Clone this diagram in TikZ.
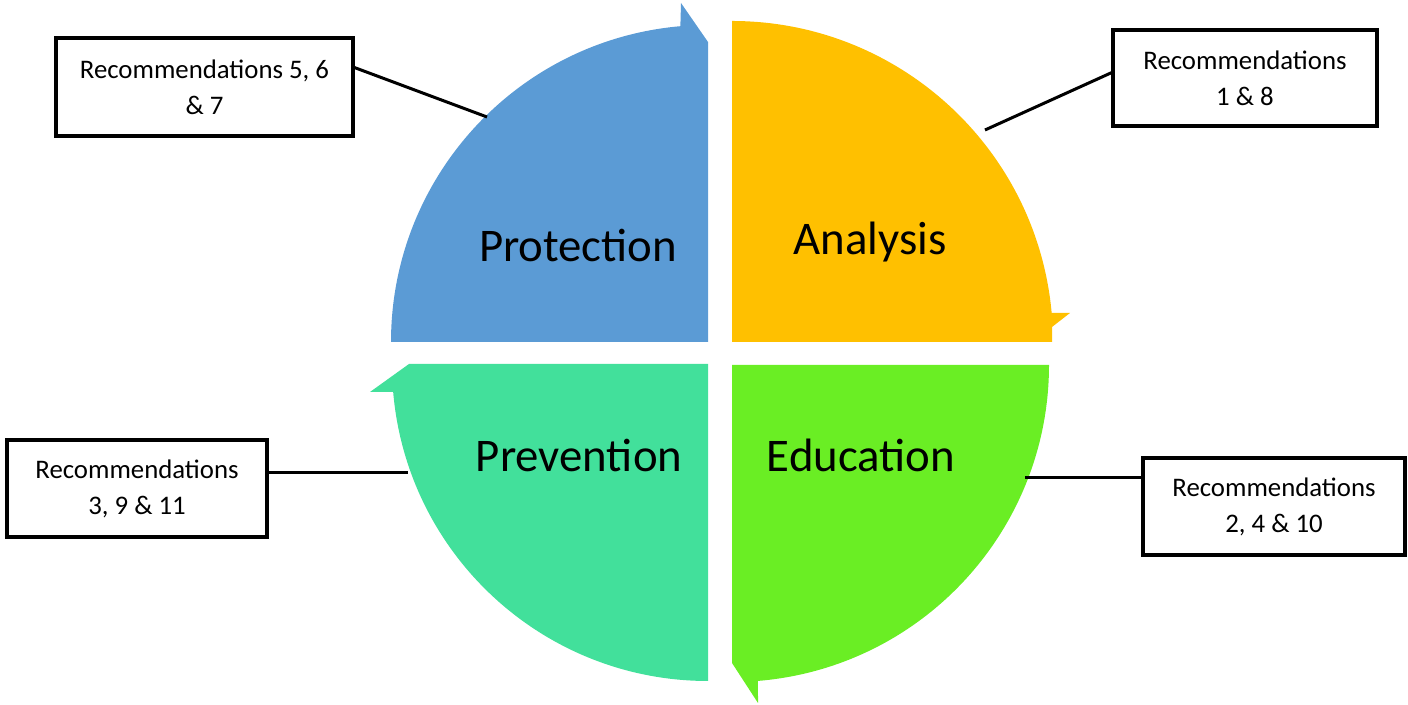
\documentclass[tikz,border=0pt]{standalone}
\usepackage{fontspec}
\setmainfont{Carlito}
\definecolor{cblue}{HTML}{5B9BD5}
\definecolor{cyellow}{HTML}{FFC000}
\definecolor{cteal}{HTML}{42E09B}
\definecolor{cgreen}{HTML}{6AEE24}
\begin{document}
\begin{tikzpicture}[x=0.5pt,y=0.5pt,
  recbox/.style={draw=black,line width=1.8pt,fill=white,inner sep=0pt,outer sep=0pt,
    align=center,font=\fontsize{13.4}{18}\selectfont},
  biglabel/.style={anchor=base,inner sep=0pt,font=\fontsize{23.4}{28}\selectfont},
  conn/.style={draw=black,line width=1.5pt}]
\useasboundingbox (0,0) rectangle (1408,705);
% quadrants
\fill[cblue] (391,363) arc[start angle=180,end angle=95,radius=317] -- (681,702) -- (708,663) -- (708,363) -- cycle;
\fill[cyellow] (732,684) arc[start angle=90,end angle=5.2,radius=321] -- (1070,392) -- (1052,378) -- (1052,363) -- (732,363) -- cycle;
\fill[cgreen] (1049,340) arc[start angle=0,end angle=-85.3,radius=317] -- (758,2) -- (732,42) -- (732,340) -- cycle;
\fill[cteal] (708,24) arc[start angle=-90,end angle=-175.1,radius=316] -- (370,313) -- (409,341) -- (708,341) -- cycle;
% labels
\node[biglabel] (prot) at (578,443) {Protection};
\node[biglabel] (anal) at (870,450) {Analysis};
\node[biglabel] (prev) at (579,233) {Prevention};
\node[biglabel] (educ) at (861,233) {Education};
% boxes
\node[recbox,minimum width=148.5pt,minimum height=49pt] (b1) at (204.5,618) {Recommendations 5, 6\\\& 7};
\node[recbox,minimum width=132pt,minimum height=48pt] (b2) at (1245,627) {Recommendations\\1 \& 8};
\node[recbox,minimum width=130pt,minimum height=48.5pt] (b3) at (137,216.5) {Recommendations\\3, 9 \& 11};
\node[recbox,minimum width=131pt,minimum height=48.5pt] (b4) at (1274,198.5) {Recommendations\\2, 4 \& 10};
% connector ends
\coordinate (e1) at (487,588);
\coordinate (e2) at (985,575);
\coordinate (e3) at (408,232);
\coordinate (e4) at (1025,227);
\draw[conn] ([yshift=-14.5pt]b1.north east) -- (e1);
\draw[conn] ([yshift=3pt]b2.west) -- (e2);
\draw[conn] ([yshift=7.75pt]b3.east) -- (e3);
\draw[conn] ([yshift=14.25pt]b4.west) -- (e4);
\end{tikzpicture}
\end{document}
